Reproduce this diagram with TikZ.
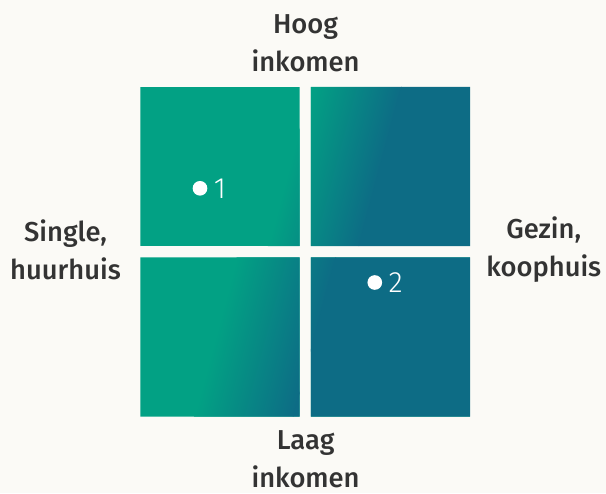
\documentclass[tikz,border=0pt]{standalone}
\usepackage{fontspec}
\setmainfont{Fira Sans Medium}
\newfontfamily\numfont{Fira Sans Light}
\usetikzlibrary{positioning}

\definecolor{qgreen}{RGB}{2,161,132}
\definecolor{qblue}{RGB}{13,108,133}
\definecolor{bgcream}{RGB}{251,250,246}
\definecolor{labelgray}{RGB}{51,51,51}

\begin{document}
\begin{tikzpicture}[
    x=0.75pt, y=0.75pt,
    quad/.style={rectangle, inner sep=0pt, minimum size=119pt},
    band/.style={left color=qgreen, right color=qblue},
    axislabel/.style={align=center, inner sep=0pt, text=labelgray, font=\fontsize{20.5}{28.5}\selectfont},
    marker/.style={circle, fill=white, inner sep=0pt, minimum size=11pt},
    num/.style={inner sep=0pt, text=white, font=\numfont\fontsize{22}{26}\selectfont}
]

    % Background
    \fill [bgcream] (0,0) rectangle (606,493);
    \useasboundingbox (0,0) rectangle (606,493);

    % Quadrants
    \node [quad] (tl) at (220,326.5) {};
    \node [quad] (tr) at (390.5,326.5) {};
    \node [quad] (bl) at (220,156) {};
    \node [quad] (br) at (390.5,156) {};

    % Top row gradient
    \begin{scope}
        \clip (tl.south west) rectangle (tl.north east) (tr.south west) rectangle (tr.north east);
        \fill [qgreen] (tl.south west) rectangle (tr.north east);
        \begin{scope}[transform canvas={rotate around={-15:(335,327)}}]
            \shade [band] (291,100) rectangle (379,560);
            \fill [qblue] (378.5,100) rectangle (800,560);
        \end{scope}
    \end{scope}

    % Bottom row gradient
    \begin{scope}
        \clip (bl.south west) rectangle (bl.north east) (br.south west) rectangle (br.north east);
        \fill [qgreen] (bl.south west) rectangle (br.north east);
        \begin{scope}[transform canvas={rotate around={-15:(265,156)}}]
            \shade [band] (217,-100) rectangle (313,400);
            \fill [qblue] (312.5,-100) rectangle (800,400);
        \end{scope}
    \end{scope}

    % Axis labels
    \node [axislabel, above=11pt of tl.north east, xshift=4.5pt] (high) {Hoog\\inkomen};
    \node [axislabel, below=10.5pt of bl.south east, xshift=4.5pt] (low) {Laag\\inkomen};
    \node [axislabel, left=14.5pt of tl.south west, yshift=-2.5pt] (single) {Single,\\huurhuis};
    \node [axislabel, right=12pt of tr.south east, yshift=-2.5pt] (family) {Gezin,\\koophuis};

    % Markers
    \node [marker] (dot1) at (200,304.7) {};
    \node [num, right=4.5pt of dot1] (num1) {1};
    \node [marker] (dot2) at (374.8,210.5) {};
    \node [num, right=4.5pt of dot2] (num2) {2};

\end{tikzpicture}
\end{document}
